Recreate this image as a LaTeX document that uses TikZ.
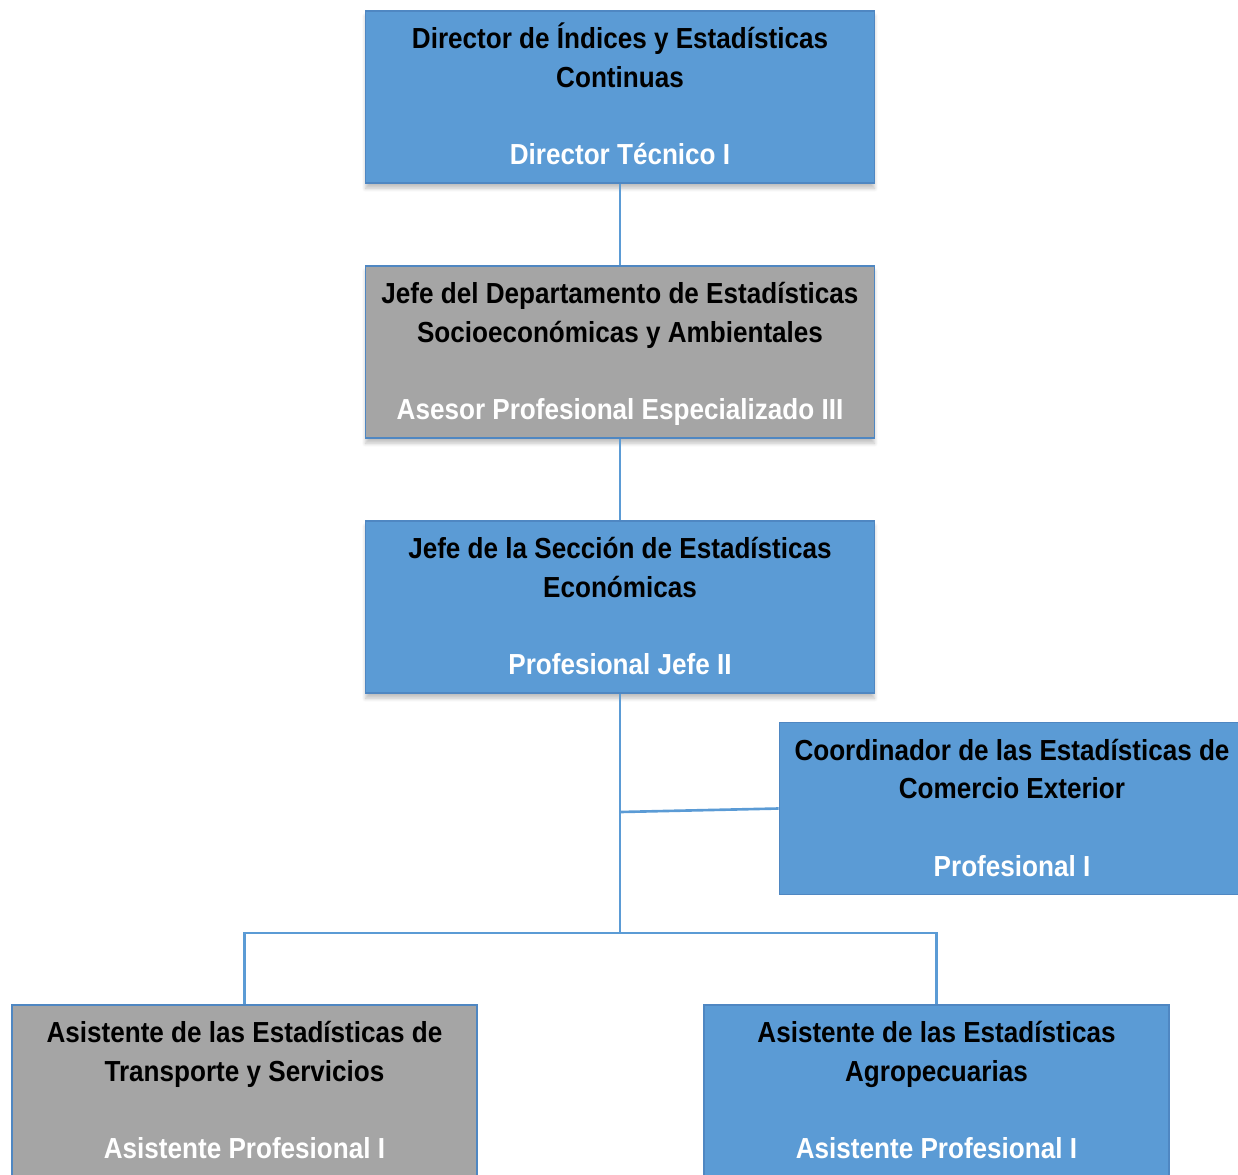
\documentclass[tikz,border=0pt]{standalone}
\usepackage{fontspec}
\setmainfont{Liberation Sans}[FakeStretch=0.9]
\usepackage{tikz}
\usetikzlibrary{positioning,shadows.blur}

\definecolor{orgazul}{HTML}{5B9BD5}
\definecolor{orgborde}{HTML}{4F87C2}
\definecolor{orggris}{HTML}{A5A5A5}

\tikzset{
    puesto/.style={draw=orgborde, line width=1pt, fill=orgazul, align=center,
        minimum width=10.18cm, minimum height=3.44cm, inner sep=0pt,
        font=\fontsize{16.5}{22}\selectfont\bfseries},
    gris/.style={fill=orggris},
    sombra/.style={blur shadow={shadow xshift=0pt, shadow yshift=-3pt,
        shadow blur steps=6, shadow opacity=25}},
    angosto/.style={minimum width=9.3cm},
    linea/.style={draw=orgazul, line width=1.5pt}
}
\newcommand{\cargo}[1]{\\[22pt]\textcolor{white}{#1}\rule[-5pt]{0pt}{5pt}}
\newcommand{\tope}{\rule{0pt}{16pt}}

\begin{document}
\begin{tikzpicture}[x=0.02cm, y=-0.02cm]

\useasboundingbox (0,0) rectangle (1238,1174);

\node[puesto, sombra] (dir) at (620,97)
    {\tope Director de Índices y Estadísticas\\Continuas\cargo{Director Técnico I}};
\node[puesto, gris, sombra] (jdep) at (620,352)
    {\tope Jefe del Departamento de Estadísticas\\Socioeconómicas y Ambientales\cargo{Asesor Profesional Especializado III}};
\node[puesto, sombra] (jsec) at (620,607)
    {\tope Jefe de la Sección de Estadísticas\\Económicas\cargo{Profesional Jefe II}};

\node[puesto, angosto] (coord) at (1012,808.5)
    {\tope Coordinador de las Estadísticas de\\Comercio Exterior\cargo{Profesional I}};

\node[puesto, angosto, gris] (asttr) at (244.5,1091)
    {\tope Asistente de las Estadísticas de\\Transporte y Servicios\cargo{Asistente Profesional I}};
\node[puesto, angosto] (astag) at (936.5,1091)
    {\tope Asistente de las Estadísticas\\Agropecuarias\cargo{Asistente Profesional I}};

\coordinate (rama) at (620,812);
\coordinate (nudo) at (620,933);

\draw[linea] (dir) -- (jdep);
\draw[linea] (jdep) -- (jsec);
\draw[linea] (jsec.south) -- (nudo);
\draw[linea] (rama) -- (coord.west);
\draw[linea] (asttr.north) |- (nudo) -| (astag.north);

\end{tikzpicture}
\end{document}
